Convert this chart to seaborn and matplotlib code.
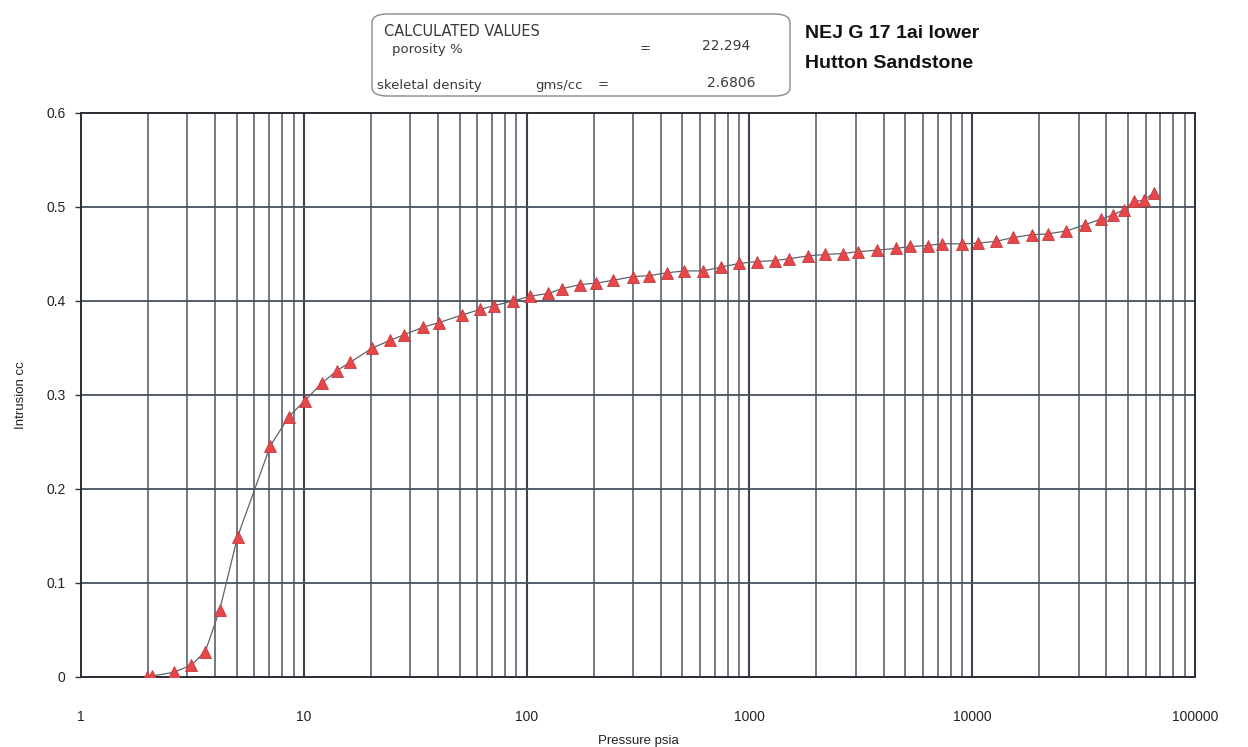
import matplotlib
matplotlib.use("Agg")
import matplotlib.pyplot as plt
import seaborn as sns
import pandas as pd
from matplotlib.patches import FancyBboxPatch
from matplotlib.ticker import FixedLocator, FixedFormatter, NullFormatter

# Mercury intrusion curve: pressure (psia) and cumulative intrusion (cc)
pressure = [1.98, 2.08, 2.61, 3.12, 3.61, 4.19, 5.04, 7.08, 8.57, 10.1,
            12.1, 14.1, 16.2, 20.3, 24.3, 28.1, 34.2, 40.4, 51.2, 61.7,
            71.3, 86.9, 103.5, 124.7, 144, 174, 205, 244, 301, 355,
            427, 509, 620, 746, 900, 1083, 1306, 1508, 1836, 2188,
            2635, 3077, 3745, 4560, 5270, 6350, 7330, 9040, 10630, 12820,
            15310, 18460, 21780, 26500, 31930, 37740, 42750, 47900, 53500, 58800,
            65200]
intrusion = [0.000, 0.001, 0.005, 0.0125, 0.027, 0.071, 0.149, 0.246, 0.277, 0.294,
             0.313, 0.326, 0.335, 0.350, 0.358, 0.364, 0.372, 0.377, 0.385, 0.391,
             0.395, 0.400, 0.405, 0.408, 0.413, 0.4175, 0.419, 0.422, 0.426, 0.427,
             0.430, 0.432, 0.432, 0.436, 0.440, 0.442, 0.443, 0.445, 0.448, 0.4495,
             0.4505, 0.4525, 0.454, 0.456, 0.458, 0.459, 0.461, 0.4607, 0.4616, 0.4635,
             0.4676, 0.4705, 0.4714, 0.4745, 0.481, 0.487, 0.4915, 0.497, 0.506, 0.507,
             0.515]

y_ticks = [0, 0.1, 0.2, 0.3, 0.4, 0.5, 0.6]
y_tick_labels = ["0", "0.1", "0.2", "0.3", "0.4", "0.5", "0.6"]
x_ticks = [1, 10, 100, 1000, 10000, 100000]
x_tick_labels = ["1", "10", "100", "1000", "10000", "100000"]

box_heading = "CALCULATED VALUES"
porosity_label, porosity_value = "porosity %", "22.294"
density_label, density_unit, density_value = "skeletal density", "gms/cc", "2.6806"
sample_name = ["NEJ G 17 1ai lower", "Hutton Sandstone"]

df = pd.DataFrame({"pressure": pressure, "intrusion": intrusion})

sns.set_theme(style="white")
plt.rcParams["font.family"] = ["Liberation Sans", "DejaVu Sans"]

W, H = 1248, 747
fig = plt.figure(figsize=(W / 100, H / 100), dpi=100)
ax = fig.add_axes([81 / W, 1 - 677 / H, (1195 - 81) / W, (677 - 113) / H])

ax.set_xscale("log")
ax.set_xlim(1, 100000)
ax.set_ylim(0, 0.6)

# grid: every integer multiple in each decade, plus 0.1 steps vertically
for dec in range(5):
    for m in range(1, 10):
        v = m * 10 ** dec
        if v <= 1:
            continue
        ax.axvline(v, color="#3e424b" if m == 1 else "#5c616b",
                   lw=1.5 if m == 1 else 1.2, zorder=1)
for yv in y_ticks[1:-1]:
    ax.axhline(yv, color="#46505f", lw=1.3, zorder=1)

sns.lineplot(data=df, x="pressure", y="intrusion", ax=ax, sort=False,
             estimator=None, color="#5f636c", lw=0.9, marker="^",
             markersize=8, markerfacecolor="#e8474a",
             markeredgecolor="#c23a3d", markeredgewidth=0.6, zorder=3)

ax.xaxis.set_major_locator(FixedLocator(x_ticks))
ax.xaxis.set_major_formatter(FixedFormatter(x_tick_labels))
ax.xaxis.set_minor_formatter(NullFormatter())
ax.set_yticks(y_ticks)
ax.set_yticklabels(y_tick_labels)

ax.tick_params(axis="x", which="both", length=0, pad=24, labelsize=10,
               labelcolor="#222222")
ax.tick_params(axis="y", which="major", length=4, width=1, color="#333333",
               direction="out", left=True, pad=7, labelsize=10,
               labelcolor="#222222")

for s in ax.spines.values():
    s.set_color("#2a2d33")
    s.set_linewidth(1.4)

ax.set_xlabel("Pressure psia", fontsize=9.5, color="#222222", labelpad=8)
ax.set_ylabel("Intrusion cc", fontsize=9.5, color="#222222", labelpad=14)


def fx(px):
    return px / W


def fy(py):
    return 1 - py / H


# summary box
box = FancyBboxPatch((fx(372), fy(96)), fx(790) - fx(372), fy(14) - fy(96),
                     boxstyle="round,pad=0,rounding_size=0.012",
                     transform=fig.transFigure, fill=False,
                     edgecolor="#8a8a8a", lw=1.0)
fig.patches.append(box)

box_font = dict(family="DejaVu Sans", color="#3a3a3a", va="center")
fig.text(fx(384), fy(31), box_heading, fontsize=10.5, ha="left", **box_font)
fig.text(fx(392), fy(49), porosity_label, fontsize=9.5, ha="left", **box_font)
fig.text(fx(645), fy(49), "=", fontsize=9.5, ha="center", **box_font)
fig.text(fx(750), fy(46), porosity_value, fontsize=10, ha="right", **box_font)
fig.text(fx(377), fy(85), density_label, fontsize=9.5, ha="left", **box_font)
fig.text(fx(535), fy(85), density_unit, fontsize=9.5, ha="left", **box_font)
fig.text(fx(603), fy(85), "=", fontsize=9.5, ha="center", **box_font)
fig.text(fx(755), fy(83), density_value, fontsize=10, ha="right", **box_font)

fig.text(fx(805), fy(33), sample_name[0], fontsize=14, fontweight="bold",
         color="#111111", va="center", ha="left")
fig.text(fx(805), fy(64), sample_name[1], fontsize=14, fontweight="bold",
         color="#111111", va="center", ha="left")

fig.savefig("out.png", dpi=100, facecolor="white")
